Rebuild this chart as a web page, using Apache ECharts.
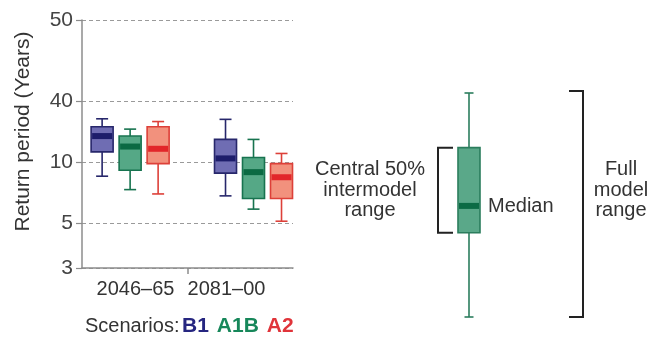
<!DOCTYPE html>
<html>
<head>
<meta charset="utf-8">
<script src="https://cdn.jsdelivr.net/npm/echarts@6/dist/echarts.min.js"></script>
<style>
  html, body { margin: 0; padding: 0; background: #ffffff; }
  #chart { width: 665px; height: 347px; }
</style>
</head>
<body>
<div id="chart"></div>
<script>
// Time slices and emission scenarios
const periods = ['2046–65', '2081–00'];
const scenarios = ['B1', 'A1B', 'A2'];

// Return period in years for each time slice: [min, Q1, median, Q3, max]
const b1Stats = [[8.5, 11.2, 13.4, 14.9, 16.3], [6.8, 8.8, 10.4, 12.9, 16.2]];
const a1bStats = [[7.3, 9.1, 11.9, 13.4, 14.5], [5.85, 6.6, 8.9, 10.5, 12.9]];
const a2Stats = [[6.95, 9.8, 11.6, 14.9, 15.8], [5.1, 6.6, 8.4, 9.8, 11.0]];

// Return-period axis ticks and their printed labels
const yTickValues = [3, 5, 10, 20, 50];
const yTickLabels = ['3', '5', '10', '40', '50'];

// Explanatory key box on a 0–100 scale: [min, Q1, median, Q3, max]
const keyStats = [0, 37.6, 49.6, 75.6, 100];
const keyTexts = ['Central 50%\nintermodel\nrange', 'Median', 'Full\nmodel\nrange'];

const statsByScenario = { B1: b1Stats, A1B: a1bStats, A2: a2Stats };

const FONT = '"Liberation Sans", Arial, Helvetica, sans-serif';
const TEXT_COLOR = '#333333';
const palette = {
  B1:  { fill: '#6f6db3', border: '#27276b', median: '#1d1d6b' },
  A1B: { fill: '#55a886', border: '#17734f', median: '#0b6a43' },
  A2:  { fill: '#f2917d', border: '#dd4039', median: '#e2262a' },
  key: { fill: '#5aa889', border: '#2b7d5d', median: '#0c6b45' }
};
const legendColors = { B1: '#262680', A1B: '#17875a', A2: '#e0343a' };

const BOX_W = 22;      // box width in px
const BOX_STEP = 28;   // distance between neighbouring scenario boxes in px
const MEDIAN_H = 6;    // thickness of the median band

// Whiskers, caps, box and median band for one box
function boxElements(cx, py, style, capW) {
  const half = BOX_W / 2;
  const lw = 1.6;
  return [
    { type: 'line', shape: { x1: cx, y1: py[4], x2: cx, y2: py[0] },
      style: { stroke: style.border, lineWidth: lw } },
    { type: 'line', shape: { x1: cx - capW / 2, y1: py[4], x2: cx + capW / 2, y2: py[4] },
      style: { stroke: style.border, lineWidth: lw } },
    { type: 'line', shape: { x1: cx - capW / 2, y1: py[0], x2: cx + capW / 2, y2: py[0] },
      style: { stroke: style.border, lineWidth: lw } },
    { type: 'rect', shape: { x: cx - half, y: py[3], width: BOX_W, height: py[1] - py[3] },
      style: { fill: style.fill, stroke: style.border, lineWidth: lw } },
    { type: 'rect', shape: { x: cx - half + 1, y: py[2] - MEDIAN_H / 2, width: BOX_W - 2, height: MEDIAN_H },
      style: { fill: style.median } }
  ];
}

function scenarioSeries(name, s) {
  return {
    name: name,
    type: 'custom',
    xAxisIndex: 0,
    yAxisIndex: 0,
    encode: { x: 0, y: [1, 2, 3, 4, 5] },
    data: periods.map((p, i) => [i].concat(statsByScenario[name][i])),
    renderItem: function (params, api) {
      const xi = api.value(0);
      const cx = api.coord([xi, api.value(3)])[0] + (s - 1) * BOX_STEP;
      const py = [1, 2, 3, 4, 5].map(d => api.coord([xi, api.value(d)])[1]);
      return { type: 'group', children: boxElements(cx, py, palette[name], 12) };
    }
  };
}

function keyText(text, x, y, align) {
  return {
    type: 'text', x: x, y: y,
    style: {
      text: text, fill: TEXT_COLOR, fontSize: 20, fontFamily: FONT,
      align: align, verticalAlign: 'middle', lineHeight: 20.5
    }
  };
}

const keySeries = {
  name: 'key',
  type: 'custom',
  xAxisIndex: 2,
  yAxisIndex: 2,
  encode: { x: 0, y: [1, 2, 3, 4, 5] },
  data: [[0].concat(keyStats)],
  renderItem: function (params, api) {
    const cx = api.coord([0, api.value(3)])[0];
    const py = [1, 2, 3, 4, 5].map(d => api.coord([0, api.value(d)])[1]);
    const boxMid = (py[1] + py[3]) / 2;
    const br = { stroke: '#222222', lineWidth: 2, fill: null };
    const children = boxElements(cx, py, palette.key, 9);
    // bracket around the interquartile box
    children.push({ type: 'polyline', shape: { points: [
      [cx - 16, py[3]], [cx - 31, py[3]], [cx - 31, py[1]], [cx - 16, py[1]]] }, style: br });
    // bracket around the whole range
    children.push({ type: 'polyline', shape: { points: [
      [cx + 100, py[4] - 2], [cx + 114, py[4] - 2], [cx + 114, py[0]], [cx + 100, py[0]]] }, style: br });
    children.push(keyText(keyTexts[0], cx - 99, boxMid, 'center'));
    children.push(keyText(keyTexts[1], cx + 19, py[2] + 1, 'left'));
    children.push(keyText(keyTexts[2], cx + 152, boxMid, 'center'));
    return { type: 'group', children: children };
  }
};

const xMin = -0.39, xMax = 1.32;

const option = {
  animation: false,
  backgroundColor: '#ffffff',
  textStyle: { fontFamily: FONT },
  title: {
    text: 'Scenarios:',
    left: 80, top: 311,
    textStyle: { fontSize: 20, fontWeight: 'normal', color: TEXT_COLOR, fontFamily: FONT }
  },
  legend: {
    left: 171, top: 311,
    icon: 'none',
    itemWidth: 1, itemHeight: 1, itemGap: 2,
    selectedMode: false,
    data: scenarios.map(n => ({
      name: n,
      textStyle: { color: legendColors[n], fontWeight: 'bold', fontSize: 21, fontFamily: FONT }
    }))
  },
  grid: [
    { left: 82, top: 20, width: 211, height: 248 },
    { left: 90, top: 20, width: 182, height: 248 },
    { left: 449, top: 93, width: 40, height: 224 }
  ],
  xAxis: [
    {
      type: 'value', gridIndex: 0, min: xMin, max: xMax,
      axisLine: { show: true, onZero: false, lineStyle: { color: '#8c8c8c', width: 1.5 } },
      axisTick: { show: true, customValues: [(xMin + xMax) / 2], length: 6,
                  lineStyle: { color: '#8c8c8c', width: 1.5 } },
      axisLabel: { show: false },
      splitLine: { show: false }
    },
    {
      type: 'category', gridIndex: 1, data: periods,
      axisLine: { show: false }, axisTick: { show: false }, splitLine: { show: false },
      axisLabel: { interval: 0, margin: 11, fontSize: 20, color: TEXT_COLOR, fontFamily: FONT }
    },
    { type: 'value', gridIndex: 2, min: -1, max: 1, show: false }
  ],
  yAxis: [
    {
      type: 'log', gridIndex: 0, logBase: 10, min: 3, max: 50,
      name: 'Return period (Years)',
      nameLocation: 'middle', nameGap: 48, nameRotate: 90,
      nameTextStyle: { fontSize: 21, color: TEXT_COLOR, fontFamily: FONT, padding: [0, 0, 0, 25] },
      axisLine: { show: true, onZero: false, lineStyle: { color: '#8c8c8c', width: 1.5 } },
      axisTick: { show: true, customValues: yTickValues, length: 6,
                  lineStyle: { color: '#8c8c8c', width: 1.2 } },
      axisLabel: {
        customValues: yTickValues, margin: 9, fontSize: 21, color: '#444444', fontFamily: FONT,
        formatter: function (v) {
          let best = 0;
          yTickValues.forEach((t, i) => {
            if (Math.abs(t - v) < Math.abs(yTickValues[best] - v)) best = i;
          });
          return yTickLabels[best];
        }
      },
      splitLine: { show: true, lineStyle: { color: '#9a9a9a', width: 1, type: [4, 3] } }
    },
    { type: 'value', gridIndex: 1, show: false },
    { type: 'value', gridIndex: 2, min: 0, max: 100, show: false }
  ],
  series: scenarios.map((n, s) => scenarioSeries(n, s)).concat([keySeries])
};

const chart = echarts.init(document.getElementById('chart'), null, { renderer: 'canvas' });
chart.setOption(option);
</script>
</body>
</html>
